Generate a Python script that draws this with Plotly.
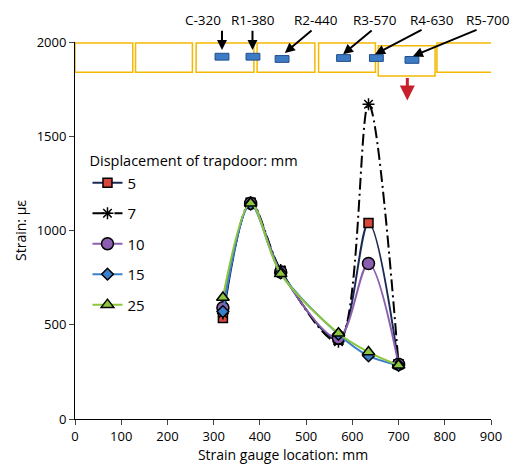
import plotly.graph_objects as go

x_loc = [320, 380, 445, 570, 635, 700]
s5 = [536, 1147, 785, 420, 1040, 290]
s7 = [560, 1150, 790, 410, 1670, 290]
s10 = [590, 1145, 780, 430, 825, 290]
s15 = [570, 1140, 775, 450, 335, 285]
s25 = [645, 1145, 770, 455, 355, 285]

gauge_labels = ["C-320", "R1-380", "R2-440", "R3-570", "R4-630", "R5-700"]
gauge_x = [318, 385, 448, 581, 652, 729]
gauge_y = [1922, 1922, 1910, 1915, 1915, 1905]
label_x = [277, 385, 521, 649, 772, 894]
tail_x = [318, 384, 515, 645, 753, 872]
head_x = [318, 384, 454, 580, 649, 731]
head_y = [1958, 1958, 1942, 1935, 1935, 1925]
block_x0 = [0, 131, 262, 394, 527, 656, 783]
block_x1 = [125, 254, 387, 519, 650, 779, 904]
block_y0 = [1840, 1840, 1840, 1840, 1840, 1820, 1840]
block_y1 = [1995, 1995, 1995, 1995, 1995, 1980, 1995]

W, H = 512, 458
ML, MR, MT, MB = 67, 29, 34, 47
PXX = (W - ML - MR) / 900.0
PXY = (H - MT - MB) / 2000.0
PH = H - MT - MB

fig = go.Figure()
series = [
    ("5", s5, "#1b2a55", "solid", "square", "#d6463c", 9),
    ("7", s7, "#000000", "12px,4px,2px,4px", "asterisk-open", "#000000", 10),
    ("10", s10, "#8a5fb0", "solid", "circle", "#8a5fb0", 12),
    ("15", s15, "#3a80cc", "solid", "diamond", "#3a80cc", 9),
    ("25", s25, "#8cc63f", "solid", "triangle-up", "#8cc63f", 11),
]
for name, ys, lc, dash, sym, mc, ms in series:
    fig.add_trace(go.Scatter(
        x=x_loc, y=ys, name=name, legendgroup=name, mode="lines+markers",
        line=dict(color=lc, width=2, dash=dash, shape="spline", smoothing=0.9),
        marker=dict(symbol=sym, color=mc, size=ms,
                    line=dict(color="#000000", width=1.5)),
    ))

shapes = []
for a, b, c, d in zip(block_x0, block_x1, block_y0, block_y1):
    shapes.append(dict(type="rect", x0=a, x1=b, y0=c, y1=d,
                       line=dict(color="#f5b800", width=1.5), fillcolor="rgba(0,0,0,0)"))
for gx, gy in zip(gauge_x, gauge_y):
    shapes.append(dict(type="rect", x0=gx - 15, x1=gx + 15, y0=gy - 18, y1=gy + 18,
                       line=dict(color="#1f4e8c", width=1), fillcolor="#3d7cc4"))

annotations = []
for lab, lx, tx, hx, hy in zip(gauge_labels, label_x, tail_x, head_x, head_y):
    annotations.append(dict(x=hx, y=hy / 2000.0, yref="paper",
                            ax=(tx - hx) * PXX, ay=-(2068 - hy) * PXY,
                            text="", showarrow=True, arrowhead=2, arrowsize=1,
                            arrowwidth=2, arrowcolor="#000000"))
    annotations.append(dict(x=lx, y=1 + 22.0 / PH, yref="paper", yanchor="middle",
                            text=lab, showarrow=False,
                            font=dict(size=13.5, color="#000")))
annotations.append(dict(x=719, y=1690, ax=0, ay=-24, text="", showarrow=True,
                        arrowhead=2, arrowsize=1, arrowwidth=3, arrowcolor="#c8202a"))

fig.update_layout(
    width=W, height=H,
    margin=dict(l=ML, r=MR, t=MT, b=MB),
    plot_bgcolor="white", paper_bgcolor="white",
    font=dict(family="Open Sans", size=12, color="#000"),
    shapes=shapes, annotations=annotations,
    showlegend=True,
    legend=dict(x=0.03, y=0.72, xanchor="left", yanchor="top",
                title=dict(text="Displacement of trapdoor: mm", font=dict(size=14.5)),
                font=dict(size=15), bgcolor="rgba(0,0,0,0)", tracegroupgap=8),
    xaxis=dict(range=[0, 900], dtick=100, showline=True, linecolor="#000",
               ticks="outside", ticklen=5, showgrid=False, zeroline=False,
               automargin=False, tickfont=dict(size=13),
               title=dict(text="Strain gauge location: mm", standoff=2)),
    yaxis=dict(range=[0, 2000], dtick=500, showline=True, linecolor="#000",
               ticks="outside", ticklen=5, showgrid=False, zeroline=False,
               automargin=False, tickfont=dict(size=13),
               title=dict(text="Strain: με", standoff=6)),
)
fig.write_html("out.html")
